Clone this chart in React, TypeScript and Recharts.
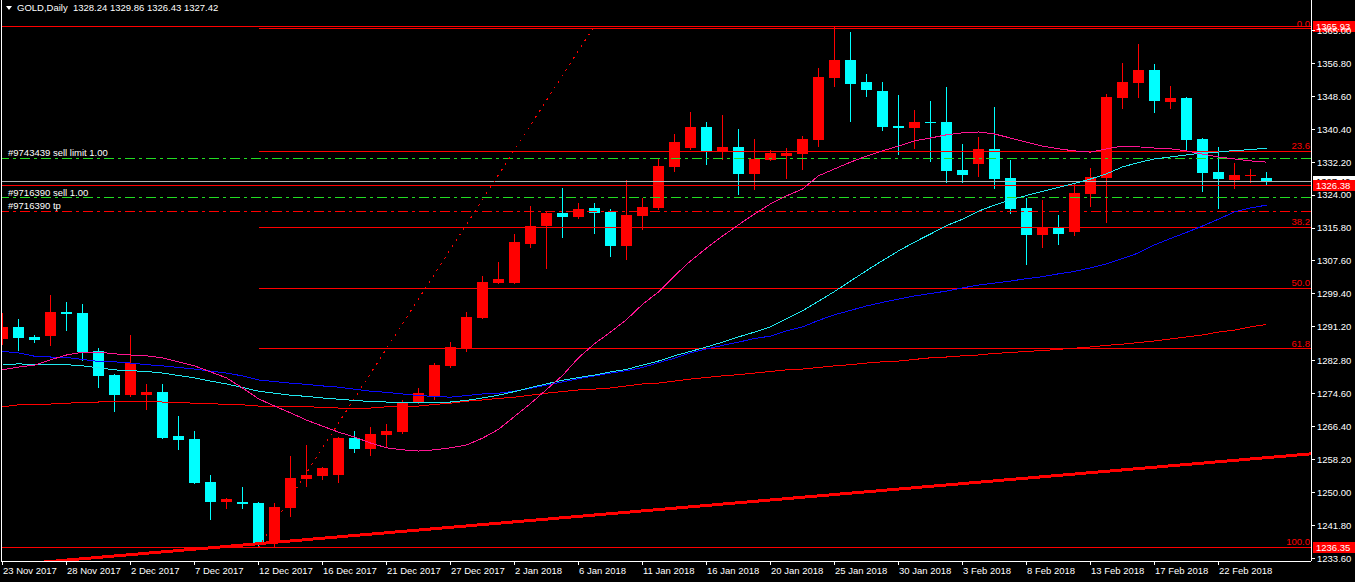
import React from 'react';
import { ComposedChart, Bar, Line, XAxis, YAxis, ReferenceLine } from 'recharts';

const FONT = '"Liberation Sans", Arial, sans-serif';
const RED = '#ff0000';
const AQUA = '#00ffff';
const WHITE = '#ffffff';
const GREEN = '#22dd22';

// date labels, one every 4 bars
const DATES = [
  '23 Nov 2017', '28 Nov 2017', '2 Dec 2017', '7 Dec 2017', '12 Dec 2017', '16 Dec 2017', '21 Dec 2017',
  '27 Dec 2017', '2 Jan 2018', '6 Jan 2018', '11 Jan 2018', '16 Jan 2018', '20 Jan 2018', '25 Jan 2018',
  '30 Jan 2018', '3 Feb 2018', '8 Feb 2018', '13 Feb 2018', '17 Feb 2018', '22 Feb 2018',
];

const OPEN = [
  1288.2, 1291.2, 1288.7, 1288.9, 1294.9, 1294.6, 1285.2, 1279.2, 1274.2, 1274.2,
  1275.0, 1264.0, 1263.3, 1252.5, 1247.6, 1247.6, 1247.4, 1237.4, 1246.1, 1253.3,
  1254.1, 1254.3, 1263.5, 1260.8, 1264.3, 1265.0, 1272.5, 1274.0, 1281.4, 1285.9,
  1293.4, 1302.1, 1302.1, 1311.8, 1316.3, 1319.6, 1318.6, 1320.8, 1319.8, 1311.3,
  1318.8, 1320.8, 1331.0, 1335.7, 1340.9, 1335.0, 1336.0, 1329.3, 1332.7, 1333.7,
  1334.2, 1337.7, 1353.1, 1357.6, 1352.1, 1349.9, 1341.2, 1340.7, 1342.2, 1342.2,
  1330.2, 1331.7, 1335.5, 1328.2, 1320.8, 1314.0, 1315.8, 1314.8, 1324.3, 1328.2,
  1348.2, 1351.9, 1355.1, 1347.2, 1348.2, 1338.0, 1329.8, 1327.8, 1328.8, 1328.24,
];
const HIGH = [
  1294.6, 1293.2, 1289.2, 1299.1, 1297.4, 1296.9, 1285.9, 1279.5, 1289.2, 1277.0,
  1277.0, 1269.0, 1265.3, 1254.3, 1248.6, 1251.3, 1247.6, 1247.4, 1259.0, 1261.8,
  1256.3, 1263.8, 1265.3, 1266.3, 1267.0, 1273.0, 1276.0, 1282.2, 1287.4, 1294.9,
  1303.9, 1307.3, 1314.3, 1321.3, 1320.1, 1325.8, 1322.1, 1322.1, 1320.6, 1327.8,
  1323.3, 1333.0, 1339.2, 1344.7, 1342.2, 1343.9, 1340.4, 1338.0, 1335.2, 1335.7,
  1338.7, 1355.6, 1365.93, 1364.6, 1354.1, 1352.1, 1348.9, 1345.2, 1347.4, 1350.9,
  1336.7, 1338.5, 1345.9, 1332.7, 1323.3, 1322.8, 1319.1, 1326.8, 1330.7, 1349.1,
  1356.9, 1361.6, 1356.6, 1351.2, 1348.4, 1338.2, 1336.0, 1332.0, 1330.5, 1329.86,
];
const LOW = [
  1286.7, 1285.2, 1287.2, 1286.4, 1290.2, 1282.7, 1276.0, 1270.0, 1273.7, 1270.5,
  1263.2, 1260.5, 1252.1, 1243.1, 1245.8, 1245.8, 1236.4, 1236.35, 1243.9, 1251.3,
  1253.1, 1252.3, 1259.8, 1259.0, 1261.3, 1264.5, 1272.0, 1273.0, 1280.9, 1284.9,
  1293.1, 1301.9, 1301.9, 1310.8, 1305.6, 1313.3, 1318.1, 1314.3, 1308.6, 1307.8,
  1315.3, 1320.3, 1329.8, 1335.3, 1331.5, 1332.7, 1324.1, 1325.3, 1332.5, 1328.0,
  1330.2, 1336.0, 1350.9, 1342.2, 1348.4, 1339.9, 1334.0, 1335.5, 1332.2, 1327.0,
  1327.0, 1328.5, 1325.5, 1319.3, 1306.6, 1310.8, 1311.6, 1313.8, 1321.1, 1317.1,
  1345.4, 1348.2, 1344.4, 1345.4, 1334.9, 1324.8, 1320.6, 1325.5, 1327.0, 1326.43,
];
const CLOSE = [
  1291.2, 1288.4, 1287.9, 1294.9, 1294.5, 1284.9, 1279.0, 1274.2, 1282.2, 1275.0,
  1263.5, 1263.0, 1252.3, 1247.6, 1248.3, 1247.1, 1237.4, 1246.4, 1253.6, 1254.3,
  1256.0, 1263.5, 1260.8, 1264.5, 1265.3, 1272.2, 1274.7, 1281.7, 1286.2, 1293.6,
  1302.4, 1303.1, 1312.3, 1316.3, 1319.6, 1318.6, 1320.6, 1319.6, 1311.3, 1319.1,
  1321.1, 1331.3, 1337.2, 1340.9, 1335.0, 1336.0, 1329.3, 1333.0, 1334.5, 1334.5,
  1338.0, 1353.4, 1357.6, 1351.6, 1350.2, 1340.9, 1340.7, 1342.2, 1341.9, 1330.0,
  1329.0, 1335.5, 1328.0, 1320.6, 1314.0, 1316.0, 1314.3, 1324.6, 1328.5, 1348.4,
  1352.1, 1355.1, 1347.4, 1348.2, 1337.7, 1329.5, 1328.0, 1329.0, 1329.0, 1327.42,
];

// moving averages
const MA_PINK = [
  1280.5, 1281.2, 1281.7, 1283.0, 1284.2, 1284.9, 1284.9, 1284.5, 1284.2, 1284.0,
  1283.5, 1282.5, 1281.5, 1280.0, 1278.5, 1276.0, 1273.3, 1271.5, 1269.8, 1268.0,
  1266.5, 1265.0, 1263.8, 1262.3, 1261.1, 1260.6, 1260.3, 1260.6, 1261.1, 1261.8,
  1263.5, 1265.7, 1268.9, 1272.1, 1275.6, 1279.1, 1283.5, 1287.0, 1289.9, 1293.0,
  1296.8, 1299.9, 1303.9, 1307.6, 1310.8, 1313.8, 1316.6, 1319.3, 1321.8, 1323.8,
  1325.5, 1328.8, 1330.5, 1332.2, 1333.7, 1335.0, 1336.2, 1337.5, 1338.2, 1339.0,
  1339.5, 1339.7, 1339.2, 1338.2, 1337.2, 1336.2, 1335.5, 1335.0, 1334.7, 1335.5,
  1336.2, 1336.0, 1335.7, 1335.5, 1335.0, 1334.2, 1333.5, 1333.0, 1332.5, 1332.2,
];
const MA_CYAN = [
  1281.7, 1282.0, 1281.8, 1281.8, 1281.8, 1281.5, 1281.0, 1280.5, 1280.3, 1280.1,
  1279.7, 1279.1, 1278.5, 1277.7, 1277.0, 1276.1, 1275.2, 1274.7, 1274.2, 1273.9,
  1273.5, 1273.2, 1272.9, 1272.6, 1272.5, 1272.5, 1272.5, 1272.5, 1272.5, 1272.9,
  1273.5, 1274.2, 1275.1, 1276.1, 1277.0, 1277.9, 1278.6, 1279.2, 1280.0, 1280.6,
  1281.7, 1282.7, 1284.0, 1285.1, 1286.2, 1287.4, 1288.7, 1289.9, 1291.2, 1293.2,
  1295.2, 1297.6, 1300.0, 1302.6, 1305.2, 1307.7, 1310.1, 1312.3, 1314.3, 1316.4,
  1318.0, 1320.0, 1321.5, 1322.8, 1323.9, 1324.9, 1325.9, 1326.9, 1328.0, 1329.3,
  1331.0, 1332.1, 1333.0, 1333.5, 1334.0, 1334.5, 1334.7, 1335.1, 1335.3, 1335.7,
];
const MA_BLUE = [
  1285.1, 1284.7, 1283.9, 1283.7, 1283.6, 1283.1, 1282.6, 1282.5, 1282.2, 1281.8,
  1281.5, 1281.1, 1280.7, 1280.2, 1279.7, 1279.0, 1278.0, 1277.6, 1277.2, 1276.9,
  1276.5, 1276.2, 1275.7, 1275.2, 1274.9, 1274.5, 1274.1, 1273.9, 1273.7, 1274.1,
  1274.5, 1274.7, 1275.2, 1275.9, 1276.7, 1277.5, 1278.3, 1279.0, 1279.7, 1280.3,
  1281.1, 1282.3, 1283.4, 1284.7, 1285.7, 1286.6, 1287.4, 1288.3, 1288.9, 1290.2,
  1291.2, 1292.8, 1294.2, 1295.3, 1296.4, 1297.3, 1298.1, 1298.9, 1299.5, 1300.1,
  1300.9, 1301.6, 1302.1, 1302.6, 1303.2, 1303.7, 1304.4, 1305.0, 1305.9, 1306.9,
  1308.2, 1309.6, 1311.6, 1313.2, 1314.7, 1316.3, 1318.0, 1319.8, 1320.8, 1321.5,
];
const MA_RED = [
  1271.3, 1271.8, 1271.9, 1272.0, 1272.2, 1272.4, 1272.5, 1272.6, 1272.7, 1272.6,
  1272.5, 1272.4, 1272.2, 1272.1, 1271.9, 1271.8, 1271.5, 1271.3, 1271.3, 1271.3,
  1271.2, 1271.0, 1271.0, 1271.0, 1271.3, 1271.3, 1271.5, 1271.9, 1272.2, 1272.7,
  1273.0, 1273.4, 1273.7, 1274.2, 1274.7, 1275.1, 1275.5, 1275.7, 1276.0, 1276.5,
  1277.0, 1277.2, 1277.7, 1278.2, 1278.6, 1279.0, 1279.3, 1279.7, 1280.1, 1280.5,
  1280.7, 1281.1, 1281.5, 1281.8, 1282.2, 1282.5, 1282.7, 1283.1, 1283.5, 1283.7,
  1284.0, 1284.2, 1284.6, 1284.8, 1285.1, 1285.3, 1285.6, 1285.9, 1286.2, 1286.6,
  1286.9, 1287.3, 1287.7, 1288.2, 1288.7, 1289.2, 1289.9, 1290.4, 1291.2, 1291.8,
];

const PRICE_TICKS = [
  1233.6, 1241.8, 1250.0, 1258.2, 1266.4, 1274.6, 1282.8, 1291.2, 1299.4,
  1307.6, 1315.8, 1324.0, 1332.2, 1340.4, 1348.6, 1356.8, 1365.0,
];
const Y_DOMAIN = [1232.93, 1372.55];
const X_DOMAIN = [-0.03125, 81.78125];
const X_END = 81.78;

// fibonacci retracement (anchored at bar 16)
const FIB_START = 16;
const FIB_NAMES = ['0.0', '23.6', '38.2', '50.0', '61.8', '100.0'];
const FIB_PRICES = [1365.45, 1334.95, 1316.05, 1300.85, 1285.7, 1236.4];
const FIB_DIAG = [
  { x: 16, y: 1236.35 },
  { x: 36.9, y: 1365.5 },
];
const TREND = [
  { x: 0, y: 1231.8 },
  { x: 81.78, y: 1259.6 },
];

const PRICE_LINES = [1365.93, 1326.38, 1236.35];
const BID = 1327.42;
const ORDER_NAMES = ['#9743439 sell limit 1.00', '#9716390 sell 1.00', '#9716390 tp'];
const ORDER_PRICES = [1333.2, 1323.3, 1320.0];
const ORDER_COLORS = [GREEN, GREEN, RED];

const data = OPEN.map((o, i) => ({
  i,
  open: o,
  high: HIGH[i],
  low: LOW[i],
  close: CLOSE[i],
  range: [LOW[i], HIGH[i]],
  pink: MA_PINK[i],
  cyan: MA_CYAN[i],
  blue: MA_BLUE[i],
  red: MA_RED[i],
}));

const Candle = (props: any) => {
  const { x, y, width, height, payload } = props;
  const { open, close, high, low } = payload;
  const left = Math.round(x + width / 2 - 5.5);
  const wickX = left + 5.5;
  const toY = (p: number) => y + ((high - p) / (high - low)) * height;
  const color = close >= open ? RED : AQUA;
  const top = Math.round(toY(Math.max(open, close)));
  const bot = Math.round(toY(Math.min(open, close)));
  return (
    <g>
      <line x1={wickX} x2={wickX} y1={Math.round(y)} y2={Math.round(y + height)} stroke={color} />
      <rect x={left} y={top} width={11} height={Math.max(1, bot - top)} fill={color} />
    </g>
  );
};

const DateTick = (props: any) => {
  const { x, y, payload } = props;
  return (
    <text x={x + 0.5} y={y + 7} fill={WHITE} fontSize={9.5} fontFamily={FONT} textAnchor="start">
      {DATES[Math.round(payload.value / 4)]}
    </text>
  );
};

const fibLabel = (text: string) => (props: any) => {
  const vb = props.viewBox;
  return (
    <text x={vb.x + vb.width - 1} y={vb.y - 2} textAnchor="end" fill={RED} fontSize={9.5} fontFamily={FONT}>
      {text}
    </text>
  );
};

const orderLabel = (text: string) => (props: any) => {
  const vb = props.viewBox;
  return (
    <text x={vb.x + 6} y={vb.y - 2} fill={WHITE} fontSize={9.5} fontFamily={FONT}>
      {text}
    </text>
  );
};

const priceTag = (text: string, bg: string, fg: string) => (props: any) => {
  const vb = props.viewBox;
  const top = Math.round(vb.y - 5.5);
  return (
    <g>
      <rect x={vb.x + vb.width + 2} y={top} width={44} height={11} fill={bg} />
      <text x={vb.x + vb.width + 5} y={top + 9} fill={fg} fontSize={9.5} fontFamily={FONT}>
        {text}
      </text>
    </g>
  );
};

export default function App() {
  const last = OPEN.length - 1;
  return (
    <div style={{ position: 'relative', width: 1355, height: 582, background: '#000' }}>
      <style>{`body{margin:0;background:#000}.recharts-surface path,.recharts-surface line,.recharts-surface rect{shape-rendering:crispEdges}`}</style>
      <ComposedChart
        width={1355}
        height={582}
        data={data}
        margin={{ top: 0, right: 0, bottom: 0, left: 2 }}
      >
        <XAxis
          dataKey="i"
          type="number"
          domain={X_DOMAIN}
          ticks={DATES.map((_, k) => k * 4)}
          interval={0}
          height={21}
          tickSize={4}
          stroke={WHITE}
          tick={<DateTick />}
          allowDataOverflow
        />
        <YAxis
          orientation="right"
          type="number"
          domain={Y_DOMAIN}
          ticks={PRICE_TICKS}
          interval={0}
          width={44}
          tickSize={4}
          tickMargin={2}
          stroke={WHITE}
          tick={{ fill: WHITE, fontSize: 9.5, fontFamily: FONT }}
          tickFormatter={(v: number) => v.toFixed(2)}
          allowDataOverflow
        />

        <ReferenceLine y={PRICE_LINES[0]} stroke={RED} label={priceTag(PRICE_LINES[0].toFixed(2), RED, WHITE)} />
        <ReferenceLine y={BID} stroke="#b4b4b4" label={priceTag(BID.toFixed(2), WHITE, '#000')} />
        <ReferenceLine y={PRICE_LINES[1]} stroke={RED} label={priceTag(PRICE_LINES[1].toFixed(2), RED, WHITE)} />
        <ReferenceLine y={PRICE_LINES[2]} stroke={RED} label={priceTag(PRICE_LINES[2].toFixed(2), RED, WHITE)} />

        {FIB_PRICES.map((p, k) => (
          <ReferenceLine
            key={FIB_NAMES[k]}
            segment={[{ x: FIB_START, y: p }, { x: X_END, y: p }]}
            stroke={RED}
            label={fibLabel(FIB_NAMES[k])}
          />
        ))}

        {ORDER_PRICES.map((p, k) => (
          <ReferenceLine
            key={ORDER_NAMES[k]}
            y={p}
            stroke={ORDER_COLORS[k]}
            strokeDasharray="10 4 3 4"
            label={orderLabel(ORDER_NAMES[k])}
          />
        ))}

        <ReferenceLine segment={FIB_DIAG} stroke={RED} strokeDasharray="2 5" ifOverflow="hidden" />
        <ReferenceLine segment={TREND} stroke={RED} strokeWidth={3} ifOverflow="hidden" />

        <Bar dataKey="range" barSize={11} shape={(p: any) => <Candle {...p} />} isAnimationActive={false} />

        <Line dataKey="red" stroke={RED} dot={false} activeDot={false} isAnimationActive={false} />
        <Line dataKey="blue" stroke="#0a0aff" dot={false} activeDot={false} isAnimationActive={false} />
        <Line dataKey="cyan" stroke="#20e8f0" dot={false} activeDot={false} isAnimationActive={false} />
        <Line dataKey="pink" stroke="#ff1493" dot={false} activeDot={false} isAnimationActive={false} />
      </ComposedChart>

      <div style={{ position: 'absolute', left: 1, top: 0, width: 1, height: 562, background: WHITE }} />
      <div
        style={{
          position: 'absolute',
          left: 6,
          top: 2,
          height: 11,
          display: 'flex',
          alignItems: 'center',
          color: WHITE,
          fontFamily: FONT,
          fontSize: 9.5,
          whiteSpace: 'pre',
        }}
      >
        <svg width={6} height={4} style={{ marginRight: 5 }}>
          <polygon points="0,0 6,0 3,4" fill={WHITE} />
        </svg>
        <span>{`GOLD,Daily  ${OPEN[last]} ${HIGH[last]} ${LOW[last]} ${CLOSE[last]}`}</span>
      </div>
    </div>
  );
}
